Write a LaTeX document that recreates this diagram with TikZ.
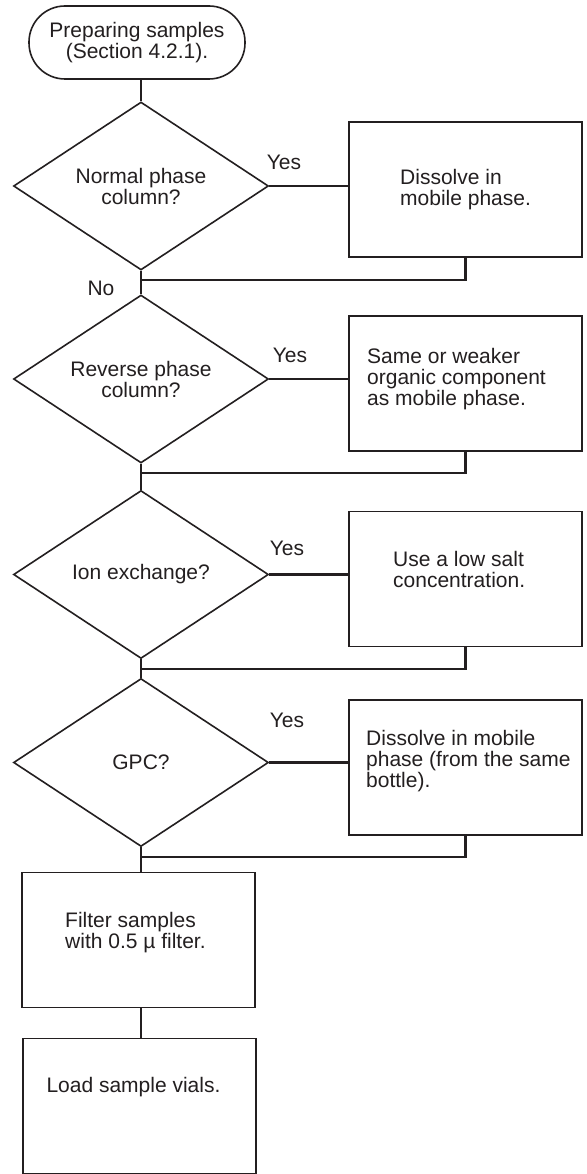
\documentclass[tikz,border=0pt]{standalone}
\usepackage{fontspec}
\setmainfont{Liberation Sans}
\usetikzlibrary{shapes.geometric}
\definecolor{ink}{HTML}{231F20}
\begin{document}
\begin{tikzpicture}[x=1pt,y=-1pt,
  every node/.style={text=ink,font=\fontsize{21}{21}\selectfont},
  diam/.style={draw=ink,line width=1.6pt,shape=diamond,aspect=1.52,inner sep=0pt,
    minimum width=255pt,minimum height=168pt,align=center},
  boxnode/.style={draw=ink,line width=1.6pt,inner sep=0pt,minimum width=233pt,minimum height=135pt},
  pill/.style={draw=ink,line width=1.6pt,rounded corners=36pt,inner sep=0pt,
    minimum width=216pt,minimum height=73pt,align=center},
  txt/.style={align=left,inner sep=0pt,anchor=west},
  lbl/.style={inner sep=0pt},
  conn/.style={draw=ink,line width=2.2pt}]
\useasboundingbox[fill=white] (0,0) rectangle (586,1174);

% start
\node[pill] (start) at (137,42.5) {Preparing samples\\(Section 4.2.1).};

% decisions
\node[diam] (d1) at (141,186) {Normal phase\\column?};
\node[diam] (d2) at (141,379) {Reverse phase\\column?};
\node[diam] (d3) at (141,574.5) {Ion exchange?};
\node[diam] (d4) at (141,762.5) {GPC?};

% action boxes
\node[boxnode] (b1) at (465.5,189.5) {};
\node[boxnode] (b2) at (465.5,383.5) {};
\node[boxnode] (b3) at (465.5,579) {};
\node[boxnode] (b4) at (465.5,767.5) {};
\node[txt] (t1) at (400,190) {Dissolve in\\mobile phase.};
\node[txt] (t2) at (367,379) {Same or weaker\\organic component\\as mobile phase.};
\node[txt] (t3) at (393,569) {Use a low salt\\concentration.};
\node[txt] (t4) at (366,761.5) {Dissolve in mobile\\phase (from the same\\bottle).};

% final boxes
\node[boxnode] (f1) at (138.5,940) {};
\node[txt] (tf1) at (65,932.5) {Filter samples\\with 0.5 µ filter.};
\node[boxnode] (f2) at (139.5,1106) {};
\node[lbl] (tf2) at (133.5,1087) {Load sample vials.};

% labels
\node[lbl] (y1) at (284,162) {Yes};
\node[lbl] (y2) at (290,355) {Yes};
\node[lbl] (y3) at (287,548) {Yes};
\node[lbl] (y4) at (287,720) {Yes};
\node[lbl] (no) at (101,288) {No};

% junctions
\coordinate (j1) at (141,280);
\coordinate (j2) at (141,473);
\coordinate (j3) at (141,669);
\coordinate (j4) at (141,857);
\coordinate (s0) at (141,79);
\coordinate (s5) at (141,1007);
\coordinate (s6) at (141,1039);

% spine
\draw[conn] (s0) -- (d1.north);
\draw[conn] (d1.south) -- (d2.north);
\draw[conn] (d2.south) -- (d3.north);
\draw[conn] (d3.south) -- (d4.north);
\draw[conn] (d4.south) -- (j4) -- (j4 |- f1.north);
\draw[conn] (s5) -- (s6);

% yes branches
\draw[conn] (d1.east) -- (d1.east -| b1.west);
\draw[conn] (d2.east) -- (d2.east -| b2.west);
\draw[conn] (d3.east) -- (d3.east -| b3.west);
\draw[conn] (d4.east) -- (d4.east -| b4.west);

% returns
\draw[conn] (b1.south) |- (j1);
\draw[conn] (b2.south) |- (j2);
\draw[conn] (b3.south) |- (j3);
\draw[conn] (b4.south) |- (j4);
\end{tikzpicture}
\end{document}
